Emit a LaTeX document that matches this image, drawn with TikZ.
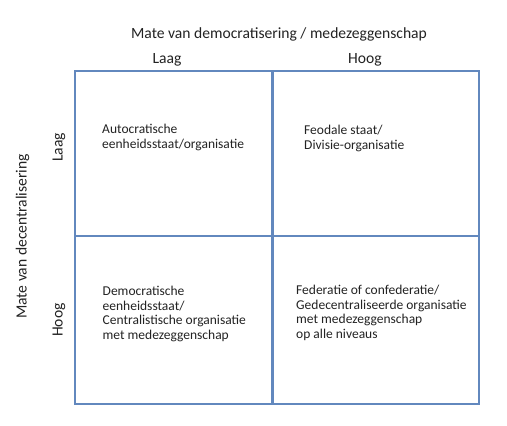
\documentclass[tikz,border=0pt]{standalone}
\usepackage{fontspec}
\setmainfont{Carlito}
\begin{document}
\begin{tikzpicture}[x=1pt,y=-1pt,
  gridline/.style={draw=frameblue,line width=2.2pt},
  lbl/.style={inner sep=0pt,font=\fontsize{15.6}{18}\selectfont,text=textgray},
  cell/.style={inner sep=0pt,anchor=base west,align=left,text=textgray,font=\fontsize{13.5}{14.4}\selectfont}]
\definecolor{frameblue}{RGB}{98,136,190}
\definecolor{textgray}{RGB}{35,35,35}
\useasboundingbox (0,0) rectangle (507,426);
\fill[white] (0,0) rectangle (507,426);
% grid
\draw[gridline] (75,71) rectangle (479,404);
\draw[gridline] (272.5,71) -- (272.5,404);
\draw[gridline] (75,236) -- (479,236);
% axis titles
\node[lbl,anchor=base] (top) at (279,38) {Mate van democratisering / medezeggenschap};
\node[lbl,anchor=base] (laagT) at (167,63) {Laag};
\node[lbl,anchor=base] (hoogT) at (365,63) {Hoog};
\node[lbl,rotate=90] (left) at (22.5,236.5) {Mate van decentralisering};
\node[lbl,rotate=90] (laagL) at (59,147.5) {Laag};
\node[lbl,rotate=90] (hoogL) at (59,320) {Hoog};
% cells (base anchor = baseline of the last line)
\node[cell] (c11) at (102,148) {Autocratische\\eenheidsstaat/organisatie};
\node[cell] (c12) at (304,149) {Feodale staat/\\Divisie-organisatie};
\node[cell] (c21) at (102.5,339) {Democratische\\eenheidsstaat/\\Centralistische organisatie\\met medezeggenschap};
\node[cell] (c22) at (296,338) {Federatie of confederatie/\\Gedecentraliseerde organisatie\\met medezeggenschap\\op alle niveaus};
\end{tikzpicture}
\end{document}
